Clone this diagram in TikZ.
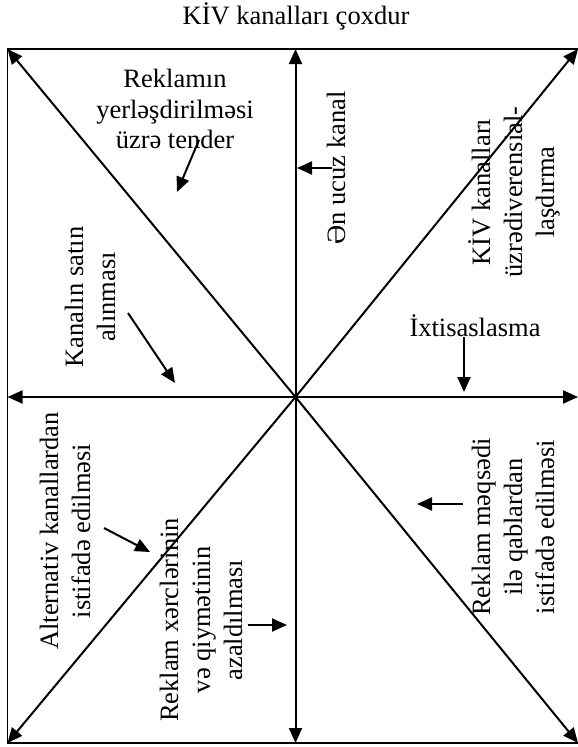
\documentclass[tikz,border=0pt]{standalone}
\usepackage{fontspec}
\setmainfont{Liberation Serif}
\usetikzlibrary{arrows.meta}
\begin{document}
\begin{tikzpicture}[x=1pt,y=-1pt,
  axis/.style={line width=2pt,-{Triangle[length=15pt,width=13pt]}},
  pointer/.style={line width=2pt,-{Triangle[length=15pt,width=13pt]}},
  frame/.style={line width=1.8pt},
  lbl/.style={font=\fontsize{26.5}{30.5}\selectfont, align=center, inner sep=0pt},
  vlbl/.style={font=\fontsize{26.5}{32}\selectfont, align=center, inner sep=0pt, rotate=90}]
\useasboundingbox (0,0) rectangle (578,747);

% frame and axis end points
\coordinate (c)  at (295.5,397);
\coordinate (tl) at (7.5,49);
\coordinate (tr) at (578,49);
\coordinate (bl) at (7.5,743);
\coordinate (br) at (578,743);
\coordinate (t)  at (295.5,49);
\coordinate (b)  at (295.5,743);
\coordinate (l)  at (7.5,397);
\coordinate (r)  at (578,397);

\draw[frame] (7.5,49) rectangle (581,743);

% eight arrows from the centre
\foreach \e in {tl,tr,bl,br,t,b,l,r}
  \draw[axis] (c) -- (\e);

% title
\node[lbl, anchor=base] (title) at (296,24) {KİV kanalları çoxdur};

% labels
\node[lbl] (tender) at (175,109) {Reklamın\\yerləşdirilməsi\\üzrə tender};
\node[vlbl] (satin) at (90,297) {Kanalın satın\\alınması};
\node[vlbl] (ucuz) at (336,168) {Ən ucuz kanal};
\node[vlbl] (diver) at (514,192) {KİV kanalları\\üzrədiverensial-\\laşdırma};
\node[lbl] (ixt) at (475,325.5) {İxtisaslasma};
\node[vlbl] (alt) at (65,531) {Alternativ kanallardan\\istifadə edilməsi};
\node[vlbl] (xerc) at (201,620) {Reklam xərclərinin\\və qiymətinin\\azaldılması};
\node[vlbl] (qab) at (513,527) {Reklam məqsədi\\ilə qablardan\\istifadə edilməsi};

% short pointers
\coordinate (p1a) at (199,140); \coordinate (p1b) at (177,192);
\coordinate (p2a) at (128,313); \coordinate (p2b) at (175,383);
\coordinate (p3a) at (332,168); \coordinate (p3b) at (297,168);
\coordinate (p4a) at (464,337); \coordinate (p4b) at (464,392);
\coordinate (p5a) at (104,528); \coordinate (p5b) at (150,552);
\coordinate (p6a) at (248,625); \coordinate (p6b) at (287,625);
\coordinate (p7a) at (463,504); \coordinate (p7b) at (417,504);
\foreach \i in {1,...,7}
  \draw[pointer] (p\i a) -- (p\i b);
\end{tikzpicture}
\end{document}
